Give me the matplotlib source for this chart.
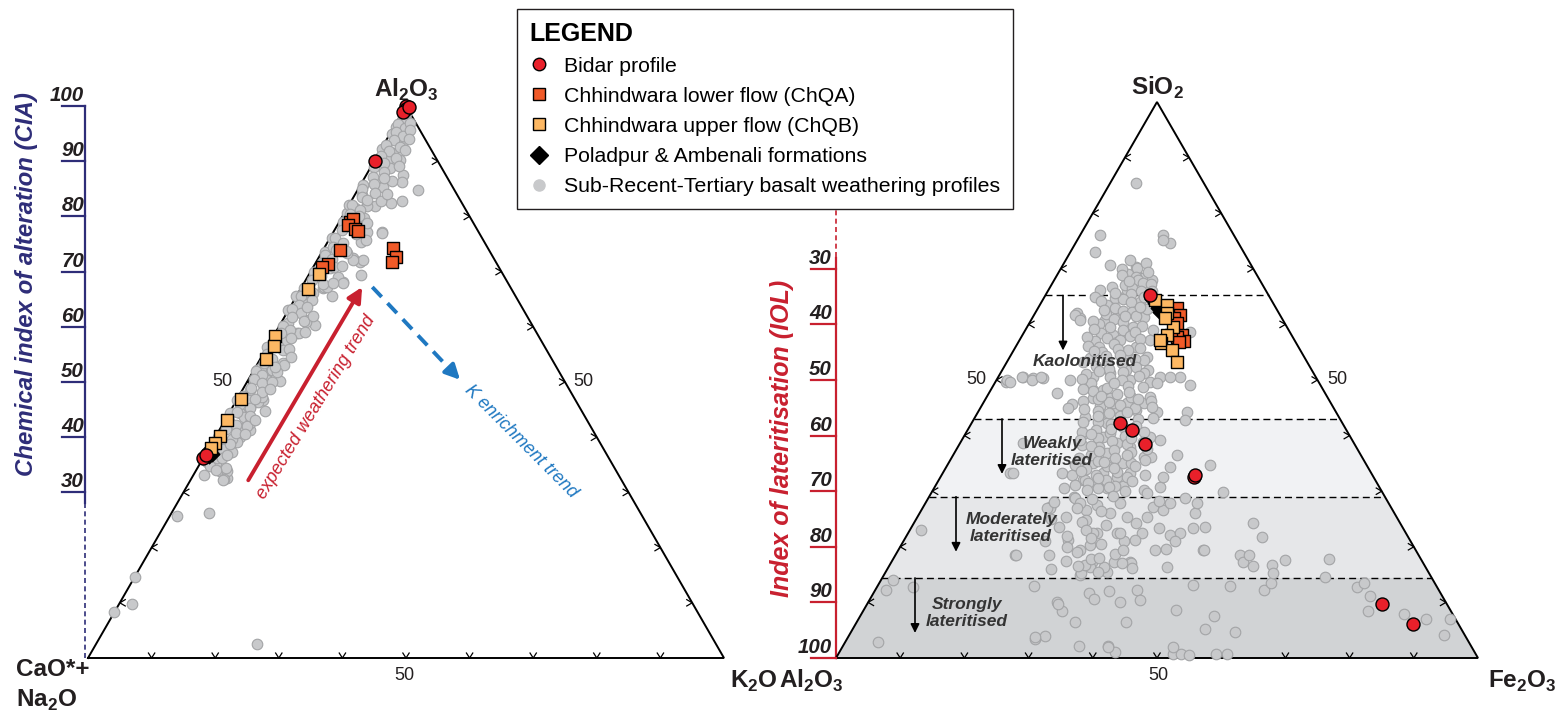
import numpy as np
import matplotlib.pyplot as plt
from matplotlib.collections import LineCollection
from matplotlib.lines import Line2D
from matplotlib.patches import Polygon

plt.rcParams['font.family'] = ['Liberation Sans', 'DejaVu Sans']
plt.rcParams['mathtext.fontset'] = 'custom'
plt.rcParams['mathtext.rm'] = 'Liberation Sans'
plt.rcParams['mathtext.bf'] = 'Liberation Sans:bold'

# ---------------- data: A-CN-K diagram, (Al2O3 %, K2O %) ----------------
acnk_gray = [
    (96.2, 0.4), (94.2, 1.9), (95.0, 0.3), (92.9, 2.9), (92.3, 0.0), (91.5, 2.2), (90.2, 2.1), (90.2, 3.9),
    (88.8, 3.1), (87.5, 5.8), (86.3, 6.2), (86.6, 3.4), (85.4, 3.7), (85.7, 0.4), (84.8, 9.5), (83.9, 1.1),
    (82.1, 2.8), (81.8, 4.2), (82.4, 6.5), (82.7, 8.0), (81.5, 1.3), (80.6, 0.4), (78.4, 3.3), (77.2, 5.2),
    (75.4, 5.3), (77.2, 7.6), (71.8, 6.9), (72.5, 5.4), (69.4, 8.3), (68.2, 6.0), (76.0, 0.3), (73.6, 0.5),
    (70.6, 2.8), (69.1, 4.8), (67.0, 3.5), (65.5, 5.6), (82.1, 0.0), (81.8, 2.9), (77.0, 7.7), (75.7, 5.9),
    (72.1, 7.2), (72.1, 5.6), (73.4, 4.0), (67.3, 3.4), (66.1, 2.4), (64.9, 1.4), (65.5, 0.0), (61.2, 3.5),
    (60.3, 5.5), (58.8, 3.4), (63.0, 0.0), (60.0, 0.7), (56.4, 0.0), (53.4, 4.0), (50.1, 5.1), (51.6, 2.3),
    (52.2, 0.4), (46.7, 4.2), (46.4, 3.6), (44.7, 5.5), (44.4, 3.0), (41.3, 4.8), (41.6, 3.1), (39.5, 3.6),
    (37.4, 3.9), (44.4, 0.1), (44.4, 1.7), (46.7, 0.0), (34.1, 4.2), (32.6, 5.5), (35.3, 1.5), (35.0, 2.7),
    (25.8, 1.1), (26.3, 5.9), (14.7, 0.0), (9.8, 2.0), (8.3, 0.0), (2.5, 25.3), (33.8, 3.9), (33.8, 5.0),
    (32.4, 5.2), (36.2, 2.2), (66.7, 1.0), (67.3, 3.9), (67.9, 6.2), (64.3, 1.7), (62.8, 0.9), (60.6, 1.2),
    (60.9, 3.9), (58.8, 3.7), (57.3, 2.1), (53.0, 4.3), (52.2, 2.8), (52.6, 0.9), (50.4, 2.9), (51.8, 3.8),
    (48.6, 1.2), (47.2, 3.7), (45.5, 2.7), (43.7, 2.6), (42.5, 4.2), (41.9, 2.2), (42.0, 4.0), (40.1, 3.8),
    (39.2, 3.8), (39.6, 2.8), (38.3, 2.1), (37.1, 1.7), (34.5, 4.5), (32.2, 5.2),
    (98.0, 0.5), (97.5, 1.2), (96.8, 0.3), (96.0, 1.8), (95.3, 0.8), (94.6, 2.3), (93.8, 1.2), (93.0, 0.4),
    (92.5, 2.8), (91.8, 1.5), (91.0, 0.6), (90.5, 3.2), (89.6, 1.8), (88.9, 0.5), (88.0, 2.5), (87.2, 1.2),
    (86.5, 4.5), (85.8, 2.0), (85.0, 0.6), (84.2, 3.0), (83.5, 1.4), (82.8, 4.6), (82.0, 0.5), (81.2, 2.2),
    (80.5, 1.0), (79.8, 3.5), (79.0, 0.6), (78.2, 2.4), (77.5, 1.2), (76.8, 3.8), (76.0, 0.8), (75.2, 2.5),
    (74.5, 1.3), (73.8, 3.6), (73.0, 0.7), (72.2, 2.2), (71.5, 1.1), (70.8, 3.3), (70.0, 0.5), (69.2, 2.0),
    (68.5, 1.0), (67.8, 3.0), (67.0, 0.4), (66.2, 1.8), (65.5, 0.8), (64.8, 2.8), (64.0, 1.2), (63.2, 0.4),
    (62.5, 2.3), (61.8, 1.1), (61.0, 3.4), (60.2, 0.6), (59.5, 2.0), (58.8, 1.0), (58.0, 2.9), (57.2, 0.5),
    (56.5, 1.6), (55.8, 2.8), (55.0, 0.7), (54.2, 1.9), (53.5, 1.0), (52.8, 3.0), (52.0, 0.4), (51.2, 1.7),
    (50.5, 0.8), (49.8, 2.5), (49.0, 1.2), (48.2, 3.2), (47.5, 0.6), (46.8, 1.9), (46.0, 0.9), (45.2, 2.8),
    (44.5, 1.2), (43.8, 3.6), (43.0, 0.6), (42.2, 2.1), (41.5, 1.0), (40.8, 2.9), (40.0, 0.5), (39.2, 1.6),
    (38.5, 0.8), (37.8, 2.4), (37.0, 1.2), (36.2, 2.9), (35.5, 0.9), (34.8, 1.8),
    (99.0, 0.6), (97.0, 2.2), (95.6, 2.9), (94.0, 3.5), (92.0, 3.8), (89.2, 4.3), (87.0, 3.0), (84.0, 5.0),
    (83.0, 2.4), (80.0, 2.6), (78.8, 4.4), (74.0, 2.0), (71.0, 4.5), (68.0, 4.6), (63.6, 2.6), (62.0, 4.4),
    (59.0, 4.6), (56.0, 3.6), (54.6, 4.6), (50.0, 4.0), (48.8, 4.2), (47.0, 2.8), (43.2, 4.6), (40.5, 4.4),
    (38.8, 3.0), (36.8, 3.5), (34.0, 3.2), (33.2, 1.6),
]
acnk_bidar = [(100.0, 0.0), (99.5, 0.3), (99.0, 0.0), (99.8, 0.5), (90.1, 0.0), (36.2, 0.0), (36.8, 0.1)]
acnk_chqa = [(79.0, 1.7), (79.6, 1.9), (78.4, 1.7), (77.8, 3.1), (77.4, 3.8), (74.0, 2.6), (71.4, 2.1),
             (70.9, 1.3), (74.2, 10.8), (72.7, 12.1), (71.7, 11.9)]
acnk_chqb = [(69.5, 1.5), (66.8, 1.2), (58.3, 0.2), (56.6, 0.9), (54.1, 0.9), (47.0, 0.5), (43.1, 0.3),
             (40.3, 0.6), (39.0, 0.5), (38.0, 0.4)]
acnk_pol = [(37.2, 0.5), (36.6, 0.8), (37.6, 0.3), (36.9, 1.0)]

# ---------------- data: A-S-F diagram, (SiO2 %, Fe2O3 %) ----------------
asf_gray = [
    (85.4, 4.1), (76.1, 12.9), (74.6, 14.7), (75.2, 13.4), (76.1, 3.1), (73.1, 3.8), (70.7, 7.3), (70.4, 11.6),
    (69.2, 12.2), (68.3, 13.7), (68.0, 15.2), (66.2, 8.0), (65.0, 7.8), (65.0, 11.2), (66.2, 12.2), (62.0, 6.5),
    (61.1, 7.5), (61.4, 13.0), (58.1, 14.1), (56.9, 15.3), (54.8, 17.9), (56.0, 18.8), (54.2, 21.3), (58.7, 25.8),
    (61.4, 17.2), (64.0, 15.4), (62.8, 17.0), (59.6, 16.5), (58.4, 15.8), (59.0, 19.9), (57.2, 20.3), (70.1, 11.8),
    (65.0, 11.5), (61.7, 6.4), (60.8, 7.6), (60.8, 11.5), (57.2, 15.6), (55.4, 17.8), (53.6, 21.1), (51.8, 22.7),
    (51.8, 19.3), (51.2, 17.1), (50.6, 14.8), (50.0, 11.4), (47.6, 10.6), (50.3, 7.1), (50.3, 5.6), (50.6, 3.9),
    (49.7, 1.7), (49.7, 24.1), (50.6, 25.2), (50.6, 28.3), (49.1, 30.6), (46.7, 16.7), (46.7, 19.4), (45.8, 22.4),
    (45.8, 25.0), (47.0, 25.4), (45.3, 18.5), (45.0, 21.2), (48.2, 16.0), (45.6, 13.9), (50.0, 1.6), (50.6, 3.6),
    (50.0, 5.5), (50.6, 6.7), (44.9, 13.7), (43.4, 17.1), (48.2, 17.5), (45.8, 20.3), (50.0, 20.8), (51.2, 22.3),
    (49.5, 25.2), (50.6, 26.7), (46.2, 26.0), (44.3, 27.8), (44.6, 24.5), (44.3, 32.5), (42.8, 33.0), (42.8, 19.7),
    (42.2, 21.1), (40.3, 18.4), (39.8, 21.7), (38.6, 24.4), (38.0, 26.8), (39.8, 29.0), (39.2, 30.9), (36.2, 29.8),
    (36.2, 31.0), (36.8, 23.8), (35.0, 27.2), (35.0, 22.6), (33.2, 25.0), (32.6, 27.4), (33.2, 29.2), (32.0, 22.5),
    (30.5, 20.2), (30.5, 26.9), (30.2, 32.8), (30.8, 35.1), (36.5, 34.8), (34.4, 34.8), (32.6, 34.7), (34.7, 40.9),
    (28.7, 40.0), (29.9, 45.4), (33.2, 10.5), (33.2, 18.6), (32.9, 20.3), (34.4, 21.3), (38.3, 19.1), (40.7, 17.9),
    (38.6, 9.9), (34.7, 19.9), (31.4, 24.9), (31.0, 29.2), (33.2, 11.0), (49.7, 2.3),
    (29.0, 22.5), (27.2, 19.7), (25.4, 23.2), (26.6, 25.7), (27.5, 26.9), (26.0, 29.7), (27.8, 30.3), (25.4, 32.6),
    (24.2, 34.7), (25.4, 35.7), (27.2, 35.8), (26.6, 37.7), (27.8, 38.1), (26.0, 42.9), (27.8, 42.3), (23.6, 45.7),
    (22.4, 29.4), (22.4, 32.5), (21.0, 34.3), (22.4, 36.4), (22.1, 41.0), (22.4, 42.4), (24.2, 52.9), (21.8, 55.4),
    (19.4, 47.5), (18.5, 53.7), (18.5, 18.6), (19.4, 28.3), (20.3, 29.4), (21.2, 25.6), (23.0, 1.8), (28.7, 22.9),
    (32.0, 22.8), (27.0, 19.9), (17.3, 31.2), (14.9, 30.5), (16.4, 31.3), (15.5, 34.4), (17.3, 37.1), (21.2, 36.0),
    (23.3, 38.6), (21.0, 42.3), (23.3, 44.0), (27.0, 19.3), (27.9, 24.1), (24.8, 26.6), (22.4, 28.9),
    (14.0, 1.9), (12.2, 1.7), (12.8, 5.6), (2.8, 5.1), (13.0, 24.4), (18.5, 18.8), (10.0, 29.5), (8.5, 31.0),
    (6.5, 34.0), (3.5, 29.3), (4.0, 30.5), (2.2, 36.7), (2.2, 41.3), (1.0, 42.9), (11.7, 33.6), (10.7, 34.8),
    (12.1, 36.4), (10.1, 39.2), (6.5, 41.9), (12.2, 40.8), (10.4, 42.1), (15.2, 30.6), (16.7, 30.5), (17.8, 30.8),
    (16.4, 33.5), (17.3, 34.6), (17.0, 37.4), (16.1, 38.1), (18.7, 34.1), (16.4, 43.4), (19.6, 41.6), (19.4, 40.0),
    (19.5, 47.6), (13.1, 49.0), (8.6, 48.6), (7.6, 55.1), (5.2, 54.9), (4.6, 59.9), (12.9, 54.9), (12.2, 60.5),
    (13.4, 61.1), (16.7, 59.5), (15.2, 60.5), (16.5, 56.7), (17.3, 54.7), (18.5, 55.1), (17.6, 61.1), (14.6, 68.9),
    (17.8, 67.9), (12.8, 74.8), (13.4, 75.6), (11.2, 77.6), (8.5, 78.6), (7.9, 84.5), (7.1, 88.3), (4.2, 92.6),
    (7.0, 92.2), (0.7, 52.2), (0.8, 53.4), (0.5, 54.8), (0.7, 58.9), (0.7, 60.5), (9.8, 29.7), (3.8, 29.1),
    (2.0, 41.4), (2.0, 51.5),
    (69.0, 11.0), (68.5, 12.5), (68.0, 13.0), (67.5, 14.0), (67.0, 11.5), (66.5, 12.8), (66.0, 14.5), (65.5, 13.2),
    (65.0, 15.5), (64.8, 11.0), (64.5, 12.5), (64.0, 14.0), (63.5, 10.5), (63.0, 12.0), (62.5, 13.5), (62.2, 15.0),
    (61.8, 11.2), (61.5, 16.0), (61.0, 12.8), (60.5, 14.5), (60.0, 11.0), (59.5, 13.0), (59.0, 15.2), (58.5, 12.0),
    (58.0, 16.8), (57.5, 13.5), (57.0, 11.8), (56.5, 15.0), (56.0, 13.0), (55.5, 16.2), (55.0, 14.0), (54.5, 17.0),
    (54.0, 12.5), (53.5, 15.5), (53.0, 18.0), (52.5, 14.2), (52.0, 16.5), (51.5, 19.0), (51.0, 13.5), (50.5, 17.5),
    (50.0, 19.5), (49.5, 15.0), (49.0, 21.0), (48.5, 18.0), (48.0, 16.0), (47.5, 20.0), (47.0, 22.5), (46.5, 17.5),
    (46.0, 19.5), (45.5, 21.5), (45.0, 24.0), (44.5, 18.5), (44.0, 20.5), (43.5, 22.5), (43.0, 25.5), (42.5, 19.5),
    (42.0, 21.8), (41.5, 24.0), (41.0, 20.0), (40.5, 22.5), (40.0, 25.0), (39.5, 21.0), (39.0, 23.5), (38.5, 26.0),
    (38.0, 22.0), (37.5, 24.5), (37.0, 27.5), (36.5, 21.5), (36.0, 25.5), (35.5, 23.0), (35.0, 28.5), (34.5, 25.0),
    (34.0, 22.0), (33.5, 27.0), (33.0, 24.0), (32.5, 29.0), (32.0, 26.0), (31.5, 23.5), (31.0, 28.0), (30.5, 25.5),
    (30.0, 30.0), (28.0, 20.0), (27.0, 24.0), (26.5, 28.0), (25.0, 21.0), (24.5, 26.0), (24.0, 30.0), (23.5, 23.0),
    (23.0, 27.5), (22.5, 33.0), (22.0, 25.0), (21.5, 29.0), (21.0, 22.0), (20.5, 31.0), (20.0, 26.0), (19.5, 35.0),
    (19.0, 28.0), (18.5, 24.0), (18.0, 32.0), (17.5, 27.0), (17.0, 36.0), (16.5, 29.5), (16.0, 25.5), (15.5, 33.0),
    (71.5, 10.0), (71.0, 12.8), (70.0, 9.5), (69.5, 13.8), (68.8, 10.2), (67.8, 11.8), (67.2, 15.5), (66.8, 9.6),
    (66.0, 16.2), (65.6, 10.6), (64.2, 9.2), (63.2, 15.8), (62.6, 10.4), (61.6, 14.2), (60.6, 9.8), (59.8, 17.8),
    (59.2, 10.6), (58.6, 17.2), (57.8, 10.2), (57.4, 18.6), (56.2, 11.2), (55.8, 19.4), (55.2, 12.6), (54.4, 14.8),
    (53.8, 19.6), (53.2, 11.8), (52.4, 20.6), (51.6, 15.2), (50.8, 21.8), (50.2, 13.2), (49.4, 18.6), (48.8, 23.4),
    (48.4, 14.2), (47.8, 21.8), (47.2, 17.6), (46.6, 23.8), (46.2, 15.4), (45.2, 26.6), (44.8, 16.2), (44.2, 23.2),
    (43.6, 19.0), (43.2, 27.8), (42.4, 17.2), (41.8, 25.8), (41.2, 22.2), (40.6, 27.6), (40.2, 19.6), (39.6, 26.2),
    (39.2, 18.4), (38.8, 28.4), (38.2, 20.6), (37.6, 29.6), (37.2, 22.4), (36.6, 27.0), (36.0, 19.8), (35.6, 30.4),
    (35.2, 24.2), (34.6, 29.2), (34.2, 26.2), (33.6, 21.4), (33.0, 31.6), (32.4, 24.6), (31.8, 30.2), (31.2, 21.6),
    (30.8, 27.2), (30.2, 24.0), (29.6, 33.6), (29.2, 28.6), (28.6, 25.6), (28.2, 36.2),
]
asf_bidar = [(65.3, 16.3), (42.2, 23.1), (41.0, 25.6), (38.4, 28.9), (32.6, 39.4), (32.9, 39.5),
             (9.8, 80.1), (6.2, 86.7)]
asf_chqa = [(62.9, 21.6), (61.7, 22.8), (61.1, 22.1), (58.1, 24.8), (57.1, 25.7), (57.8, 24.2), (58.1, 23.2),
            (56.8, 25.0), (60.2, 23.0)]
asf_chqb = [(64.4, 17.5), (63.4, 19.8), (62.0, 20.5), (59.6, 22.7), (58.1, 22.5), (56.6, 22.4), (55.4, 24.6),
            (53.3, 26.4), (57.2, 21.9), (61.1, 20.7)]
asf_pol = [(64.5, 17.0), (63.8, 17.8), (63.0, 18.6), (62.3, 19.3)]

cia_ticks = [30, 40, 50, 60, 70, 80, 90, 100]
iol_ticks = [30, 40, 50, 60, 70, 80, 90, 100]
iol_bounds = [34.8, 57.0, 71.0, 85.6, 100.0]
zone_names = ['Kaolonitised', 'Weakly\nlateritised', 'Moderately\nlateritised', 'Strongly\nlateritised']
zone_colors = ['white', '#f1f2f4', '#e6e7e9', '#d1d3d5']

# ---------------- layout ----------------
LEFT_V = {'top': (406, 106), 'left': (88, 658), 'right': (724, 658)}
RIGHT_V = {'top': (1157, 102), 'left': (836, 658), 'right': (1478, 658)}

NAVY = '#2e2d78'
RED = '#c8202f'
BLUE = '#1f78c1'
DARK = '#231f20'
RED_PT = '#e8202a'
CHQA = '#f05a28'
CHQB = '#fdb863'
GRAY_FC = '#c8c9cb'
GRAY_EC = '#a3a4a6'


def tern(top, right, v):
    t = np.asarray(top, float) / 100.0
    r = np.asarray(right, float) / 100.0
    l = 1.0 - t - r
    x = l * v['left'][0] + t * v['top'][0] + r * v['right'][0]
    y = l * v['left'][1] + t * v['top'][1] + r * v['right'][1]
    return x, y


def draw_frame(ax, v):
    tri = [v['left'], v['right'], v['top'], v['left']]
    ax.plot([p[0] for p in tri], [p[1] for p in tri], color='black', lw=1.4, zorder=2,
            solid_joinstyle='miter')
    segs = []
    for t in range(10, 100, 10):
        bx, by = tern(0, t, v)
        segs += [[(bx - 3.5, by - 5.5), (bx, by), (bx + 3.5, by - 5.5)]]
        lx, ly = tern(t, 0, v)
        segs += [[(lx + 6, ly - 3.5), (lx, ly), (lx + 6, ly + 3.5)]]
        rx, ry = tern(t, 100 - t, v)
        segs += [[(rx - 6, ry - 3.5), (rx, ry), (rx - 6, ry + 3.5)]]
    ax.add_collection(LineCollection(segs, colors='black', linewidths=0.9, zorder=2))


def scatter_set(ax, pts, v, **kw):
    arr = np.array(pts)
    x, y = tern(arr[:, 0], arr[:, 1], v)
    ax.scatter(x, y, **kw)


fig = plt.figure(figsize=(15.67, 7.19), dpi=100)
ax = fig.add_axes([0, 0, 1, 1])
ax.set_xlim(0, 1567)
ax.set_ylim(719, 0)
ax.axis('off')

# ---- lateritisation zones (right) ----
for i in range(len(zone_names)):
    s_hi = 100 - iol_bounds[i]
    s_lo = 100 - iol_bounds[i + 1]
    corners = [tern(s_hi, 0, RIGHT_V), tern(s_hi, 100 - s_hi, RIGHT_V),
               tern(s_lo, 100 - s_lo, RIGHT_V), tern(s_lo, 0, RIGHT_V)]
    ax.add_patch(Polygon(corners, closed=True, facecolor=zone_colors[i], edgecolor='none', zorder=0))
    x0, y0 = tern(s_hi, 0, RIGHT_V)
    x1, y1 = tern(s_hi, 100 - s_hi, RIGHT_V)
    ax.plot([x0, x1], [y0, y1], color='black', lw=1.0, ls=(0, (5, 3)), zorder=1)

draw_frame(ax, LEFT_V)
draw_frame(ax, RIGHT_V)

# ---- CIA axis ----
cia_y = [tern(c, 0, LEFT_V)[1] for c in cia_ticks]
ax.plot([85, 85], [tern(100, 0, LEFT_V)[1], tern(28, 0, LEFT_V)[1]], color=NAVY, lw=1.6)
ax.plot([85, 85], [tern(28, 0, LEFT_V)[1], 658], color=NAVY, lw=1.2, ls=(0, (3, 2)))
for c, y in zip(cia_ticks, cia_y):
    ax.plot([62, 85], [y, y], color=NAVY, lw=1.6)
    ax.text(84, y - 5, str(c), ha='right', va='baseline', fontsize=14.8, fontweight='bold',
            style='italic', color=DARK)
ax.text(27, 284, 'Chemical index of alteration (CIA)', rotation=90, ha='center', va='center',
        fontsize=17.3, fontweight='bold', style='italic', color=NAVY)

# ---- IOL axis ----
def iol_y(i):
    return tern(100 - i, 0, RIGHT_V)[1]

ax.plot([836, 836], [iol_y(0), iol_y(28)], color=RED, lw=1.2, ls=(0, (3, 2)), zorder=1)
ax.plot([836, 836], [iol_y(28), iol_y(100)], color=RED, lw=1.6, zorder=1)
for i in iol_ticks:
    ax.plot([811, 836], [iol_y(i), iol_y(i)], color=RED, lw=1.6)
    ax.text(832, iol_y(i) - 5, str(i), ha='right', va='baseline', fontsize=14.8, fontweight='bold',
            style='italic', color=DARK)
ax.text(782, 438, 'Index of lateritisation (IOL)', rotation=90, ha='center', va='center',
        fontsize=18, fontweight='bold', style='italic', color=RED)

# ---- points ----
gray_kw = dict(s=58, facecolor=GRAY_FC, edgecolor=GRAY_EC, linewidths=0.8, zorder=3)
scatter_set(ax, acnk_gray, LEFT_V, **gray_kw)
scatter_set(ax, asf_gray, RIGHT_V, **gray_kw)
for v, pol, chqb, chqa, bid in [(LEFT_V, acnk_pol, acnk_chqb, acnk_chqa, acnk_bidar),
                                 (RIGHT_V, asf_pol, asf_chqb, asf_chqa, asf_bidar)]:
    scatter_set(ax, pol, v, marker='D', s=55, facecolor='black', edgecolor='black', zorder=4)
    scatter_set(ax, chqa, v, marker='s', s=74, facecolor=CHQA, edgecolor='black', linewidths=1.0, zorder=5)
    scatter_set(ax, chqb, v, marker='s', s=74, facecolor=CHQB, edgecolor='black', linewidths=1.0, zorder=5)
    scatter_set(ax, bid, v, marker='o', s=88, facecolor=RED_PT, edgecolor='black', linewidths=1.0, zorder=6)

# ---- trend arrows (left) ----
ws = tern(32.2, 9.1, LEFT_V)
we = tern(67.2, 9.5, LEFT_V)
ax.annotate('', xy=we, xytext=ws, zorder=6,
            arrowprops=dict(arrowstyle='-|>', color=RED, lw=2.8, mutation_scale=22, shrinkA=0, shrinkB=0))
ax.text(316, 407, 'expected weathering trend', rotation=58.5, ha='center', va='center',
        fontsize=13, style='italic', color=RED, rotation_mode='anchor')
ks = tern(67.2, 11.1, LEFT_V)
ke = tern(50.4, 33.3, LEFT_V)
km = tern(52.2, 30.9, LEFT_V)
ax.plot([ks[0], km[0]], [ks[1], km[1]], color=BLUE, lw=2.8, ls=(0, (3.5, 2.2)), zorder=6)
ax.annotate('', xy=ke, xytext=km, zorder=6,
            arrowprops=dict(arrowstyle='-|>', color=BLUE, lw=2.8, mutation_scale=22, shrinkA=0, shrinkB=0))
ax.text(521, 442, 'K enrichment trend', rotation=-45, ha='center', va='center',
        fontsize=13, style='italic', color=BLUE, rotation_mode='anchor')

# ---- zone arrows and labels (right) ----
arrow_x = [1063, 1002, 956, 915]
label_xy = [(1085, 361), (1052, 452), (1011, 528), (967, 613)]
for i in range(len(zone_names)):
    y0 = iol_y(iol_bounds[i])
    ax.annotate('', xy=(arrow_x[i], y0 + 55), xytext=(arrow_x[i], y0), zorder=7,
                arrowprops=dict(arrowstyle='-|>', color='black', lw=1.2, mutation_scale=13,
                                shrinkA=0, shrinkB=0))
    ax.text(label_xy[i][0], label_xy[i][1], zone_names[i], ha='center', va='center', fontsize=12.5,
            fontweight='bold', style='italic', color='#333333', linespacing=1.2, zorder=7)

# ---- vertex and scale labels ----
vkw = dict(fontsize=17.5, fontweight='bold', color=DARK)
ax.text(406, 97, r'Al$_\mathbf{2}$O$_\mathbf{3}$', ha='center', va='baseline', **vkw)
ax.text(16, 676, 'CaO*+', ha='left', va='baseline', **vkw)
ax.text(16, 707, r'Na$_\mathbf{2}$O', ha='left', va='baseline', **vkw)
ax.text(730, 688, r'K$_\mathbf{2}$O', ha='left', va='baseline', **vkw)
ax.text(779, 688, r'Al$_\mathbf{2}$O$_\mathbf{3}$', ha='left', va='baseline', **vkw)
ax.text(1157, 95, r'SiO$_\mathbf{2}$', ha='center', va='baseline', **vkw)
ax.text(1488, 688, r'Fe$_\mathbf{2}$O$_\mathbf{3}$', ha='left', va='baseline', **vkw)

for (x, y) in [(404, 676), (222, 381), (583, 381), (1158, 676), (976, 379), (1337, 379)]:
    ax.text(x, y, '50', ha='center', va='center', fontsize=13, color=DARK)

# ---- legend ----
handles = [
    Line2D([], [], ls='', marker='o', ms=9, mfc=RED_PT, mec='black', mew=1.0),
    Line2D([], [], ls='', marker='s', ms=8.2, mfc=CHQA, mec='black', mew=1.0),
    Line2D([], [], ls='', marker='s', ms=8.2, mfc=CHQB, mec='black', mew=1.0),
    Line2D([], [], ls='', marker='D', ms=9.5, mfc='black', mec='black'),
    Line2D([], [], ls='', marker='o', ms=8, mfc=GRAY_FC, mec=GRAY_FC),
]
labels = ['Bidar profile', 'Chhindwara lower flow (ChQA)', 'Chhindwara upper flow (ChQB)',
          'Poladpur & Ambenali formations', 'Sub-Recent-Tertiary basalt weathering profiles']
leg = ax.legend(handles, labels, loc='upper left', bbox_to_anchor=(517, 9), bbox_transform=ax.transData,
                borderaxespad=0, title='LEGEND', alignment='left', fontsize=15.3,
                title_fontproperties={'weight': 'bold', 'size': 18}, frameon=True, fancybox=False,
                edgecolor=DARK, framealpha=1, handlelength=0.9, handletextpad=0.7,
                labelspacing=0.52, borderpad=0.6)
leg.get_frame().set_linewidth(1.0)
leg.set_zorder(20)

fig.savefig('out.png', dpi=100)
